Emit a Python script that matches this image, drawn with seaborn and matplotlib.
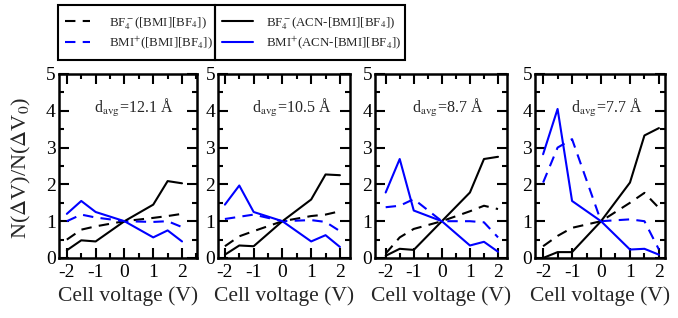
import numpy as np
import pandas as pd
import matplotlib
matplotlib.use("Agg")
import matplotlib.pyplot as plt
from matplotlib.patches import Rectangle
from matplotlib.lines import Line2D
from matplotlib.ticker import MultipleLocator
import seaborn as sns

# ---------------- data ----------------
voltage = [-2.0, -1.5, -1.0, 0.0, 1.0, 1.5, 2.0]
panel_labels = ["12.1", "10.5", "8.7", "7.7"]

# BF4- in pure [BMI][BF4] (black dashed)
bf4_il = [
    [0.50, 0.77, 0.86, 1.00, 1.09, 1.14, 1.20],
    [0.32, 0.59, 0.73, 1.00, 1.14, 1.18, 1.27],
    [0.12, 0.56, 0.79, 1.00, 1.27, 1.42, 1.33],
    [0.32, 0.60, 0.82, 1.00, 1.50, 1.77, 1.36],
]
# BMI+ in pure [BMI][BF4] (blue dashed)
bmi_il = [
    [1.00, 1.18, 1.10, 1.00, 0.98, 1.00, 0.84],
    [1.06, 1.12, 1.18, 1.00, 1.03, 0.98, 0.73],
    [1.38, 1.42, 1.60, 1.00, 1.00, 0.97, 0.56],
    [2.05, 3.00, 3.23, 1.00, 1.05, 1.00, 0.23],
]
# BF4- in ACN-[BMI][BF4] (black solid)
bf4_acn = [
    [0.21, 0.48, 0.45, 1.00, 1.45, 2.09, 2.03],
    [0.09, 0.34, 0.32, 1.00, 1.59, 2.27, 2.25],
    [0.06, 0.25, 0.22, 1.00, 1.78, 2.69, 2.75],
    [0.00, 0.16, 0.16, 1.00, 2.05, 3.33, 3.53],
]
# BMI+ in ACN-[BMI][BF4] (blue solid)
bmi_acn = [
    [1.20, 1.55, 1.25, 1.00, 0.56, 0.75, 0.45],
    [1.45, 1.97, 1.25, 1.00, 0.45, 0.62, 0.30],
    [1.78, 2.69, 1.29, 1.00, 0.34, 0.44, 0.17],
    [2.82, 4.05, 1.55, 1.00, 0.23, 0.25, 0.09],
]

legend_labels = [
    r"BF$_4^-$([BMI][BF$_4$])",
    r"BMI$^{+}$([BMI][BF$_4$])",
    r"BF$_4^-$(ACN-[BMI][BF$_4$])",
    r"BMI$^{+}$(ACN-[BMI][BF$_4$])",
]

# ---------------- style ----------------
sns.set_style("ticks")
plt.rcParams["font.family"] = ["Liberation Serif", "DejaVu Serif"]
plt.rcParams["mathtext.fontset"] = "stix"

W, H = 678, 318
fig = plt.figure(figsize=(W / 100, H / 100), dpi=100)

# panel layout (pixels) and per-panel x-limits
panel_px = [(58.5, 197), (218, 350), (375, 507), (535, 665)]
xlims = [(-2.29, 2.52), (-2.24, 2.35), (-2.38, 2.32), (-2.28, 2.21)]
top_px, bottom_px = 74, 258

dash = (5, 3.5)
lw = 1.5

for i in range(4):
    l, r = panel_px[i]
    ax = fig.add_axes([l / W, (H - bottom_px) / H,
                       (r - l) / W, (bottom_px - top_px) / H])
    series = [
        (bf4_il[i], "black", "--"),
        (bmi_il[i], "#0000ff", "--"),
        (bf4_acn[i], "black", "-"),
        (bmi_acn[i], "#0000ff", "-"),
    ]
    for vals, col, ls in series:
        df = pd.DataFrame({"V": voltage, "N": vals})
        sns.lineplot(data=df, x="V", y="N", ax=ax, color=col, lw=lw,
                     estimator=None, sort=False)
        line = ax.get_lines()[-1]
        if ls == "--":
            line.set_dashes(dash)
    ax.set_xlim(*xlims[i])
    ax.set_ylim(0, 5)
    ax.xaxis.set_major_locator(MultipleLocator(1))
    ax.xaxis.set_minor_locator(MultipleLocator(0.5))
    ax.yaxis.set_major_locator(MultipleLocator(1))
    ax.yaxis.set_minor_locator(MultipleLocator(0.5))
    ax.tick_params(which="both", direction="in", top=True, right=True,
                   width=1.5, labelsize=14, colors="black")
    ax.tick_params(which="major", length=7)
    ax.tick_params(which="minor", length=3.5)
    ax.tick_params(axis="y", pad=2)
    ax.tick_params(axis="x", pad=4)
    for sp in ax.spines.values():
        sp.set_linewidth(1.8)
        sp.set_color("black")
    ax.set_xticks([-2, -1, 0, 1, 2])
    ax.set_xticklabels(["-2", "-1", "0", "1", "2"])
    ax.set_xlabel("Cell voltage (V)", fontsize=15.5, labelpad=4)
    ax.set_ylabel("")
    ax.text(-1.05, 3.93, r"d$_{\rm avg}$=" + panel_labels[i] + " Å",
            fontsize=11.5, ha="left", va="baseline")

fig.text(21 / W, (H - 168) / H, r"N($\Delta$V)/N($\Delta$V$_0$)",
         rotation=90, fontsize=16, ha="center", va="center")

# ---------------- legends ----------------
h_il = [Line2D([], [], color="black", lw=lw, dashes=dash),
        Line2D([], [], color="#0000ff", lw=lw, dashes=dash)]
h_acn = [Line2D([], [], color="black", lw=lw),
         Line2D([], [], color="#0000ff", lw=lw)]

fs_leg = 9.3
leg1 = fig.legend(h_il, legend_labels[:2], loc="center left",
                  bbox_to_anchor=(65 / W, (H - 33) / H), frameon=False,
                  fontsize=fs_leg, handlelength=1.9, handletextpad=1.5,
                  borderpad=0, borderaxespad=0, labelspacing=0.2)
leg2 = fig.legend(h_acn, legend_labels[2:], loc="center left",
                  bbox_to_anchor=(222 / W, (H - 33) / H), frameon=False,
                  fontsize=fs_leg, handlelength=2.4, handletextpad=1.0,
                  borderpad=0, borderaxespad=0, labelspacing=0.2)

for x0, x1 in [(58, 215), (215, 405)]:
    fig.add_artist(Rectangle((x0 / W, (H - 60) / H), (x1 - x0) / W, 55 / H,
                             transform=fig.transFigure, fill=False,
                             edgecolor="black", lw=1.5))

fig.savefig("out.png", dpi=100)
